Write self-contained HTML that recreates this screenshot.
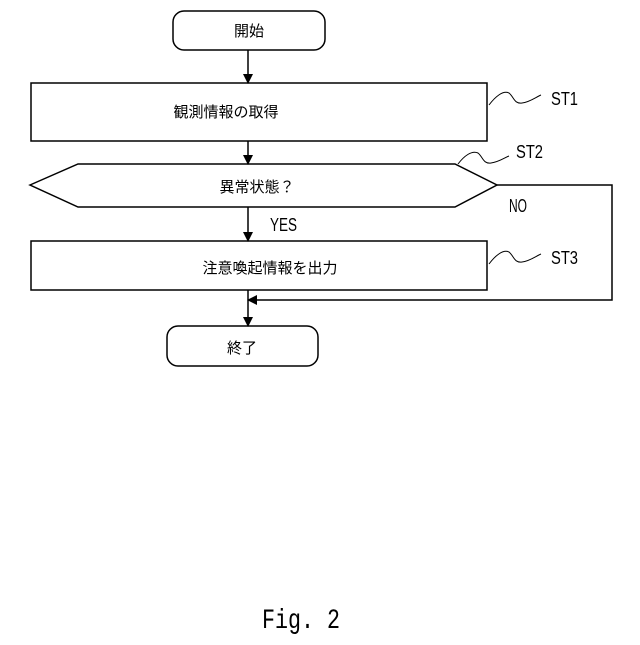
<!DOCTYPE html>
<html><head><meta charset="utf-8"><style>body{margin:0;background:#fff}</style></head><body>
<svg width="640" height="640" viewBox="0 0 640 640" xmlns="http://www.w3.org/2000/svg" font-family="'Liberation Sans','Noto Sans CJK JP',sans-serif">
<defs><marker id="a" markerWidth="10" markerHeight="10" refX="9" refY="5" orient="auto" markerUnits="userSpaceOnUse"><path d="M0,0 L10,5 L0,10 z" fill="#000"/></marker></defs>
<g fill="none" stroke="#000" stroke-width="1.5">
<rect x="173" y="11" width="152" height="39" rx="11"/>
<rect x="31" y="83" width="456" height="58"/>
<polygon points="30,185 78,164 455,164 497,185 455,207 78,207"/>
<rect x="31" y="241" width="456" height="49"/>
<rect x="167" y="326" width="151" height="40" rx="11"/>
<line x1="248" y1="50" x2="248" y2="83" marker-end="url(#a)"/>
<line x1="248" y1="141" x2="248" y2="164" marker-end="url(#a)"/>
<line x1="248" y1="207" x2="248" y2="241" marker-end="url(#a)"/>
<line x1="248" y1="290" x2="248" y2="326" marker-end="url(#a)"/>
<polyline points="497,185 612,185 612,300 248,300" marker-end="url(#a)"/>
<path d="M489,105 C495,97 503,90 509,93 C514,97 514,104 522,103 C530,102 536,97 541,95" stroke-width="1"/>
<path d="M458,164 C464,156 472,150 478,153 C483,157 483,164 491,163 C499,162 504,158 509,156" stroke-width="1"/>
<path d="M489,264 C495,256 503,249 509,252 C514,256 514,263 522,262 C530,261 536,256 541,254" stroke-width="1"/>
</g>
<g font-size="15" fill="#000">
<text x="249" y="36" text-anchor="middle">開始</text>
<text x="226" y="117" text-anchor="middle">観測情報の取得</text>
<text x="257" y="192" text-anchor="middle">異常状態？</text>
<text x="270" y="273" text-anchor="middle">注意喚起情報を出力</text>
<text x="242" y="353" text-anchor="middle">終了</text>
</g>
<g font-size="18" fill="#000">
<text x="551" y="105" textLength="27" lengthAdjust="spacingAndGlyphs">ST1</text>
<text x="516" y="158" textLength="27" lengthAdjust="spacingAndGlyphs">ST2</text>
<text x="551" y="264" textLength="27" lengthAdjust="spacingAndGlyphs">ST3</text>
<text x="509" y="212" textLength="18" lengthAdjust="spacingAndGlyphs">NO</text>
<text x="270" y="231" textLength="27" lengthAdjust="spacingAndGlyphs">YES</text>
</g>
<text x="262" y="628" font-family="'Liberation Mono',monospace" font-size="28" textLength="78" lengthAdjust="spacingAndGlyphs">Fig. 2</text>
</svg>
</body></html>
